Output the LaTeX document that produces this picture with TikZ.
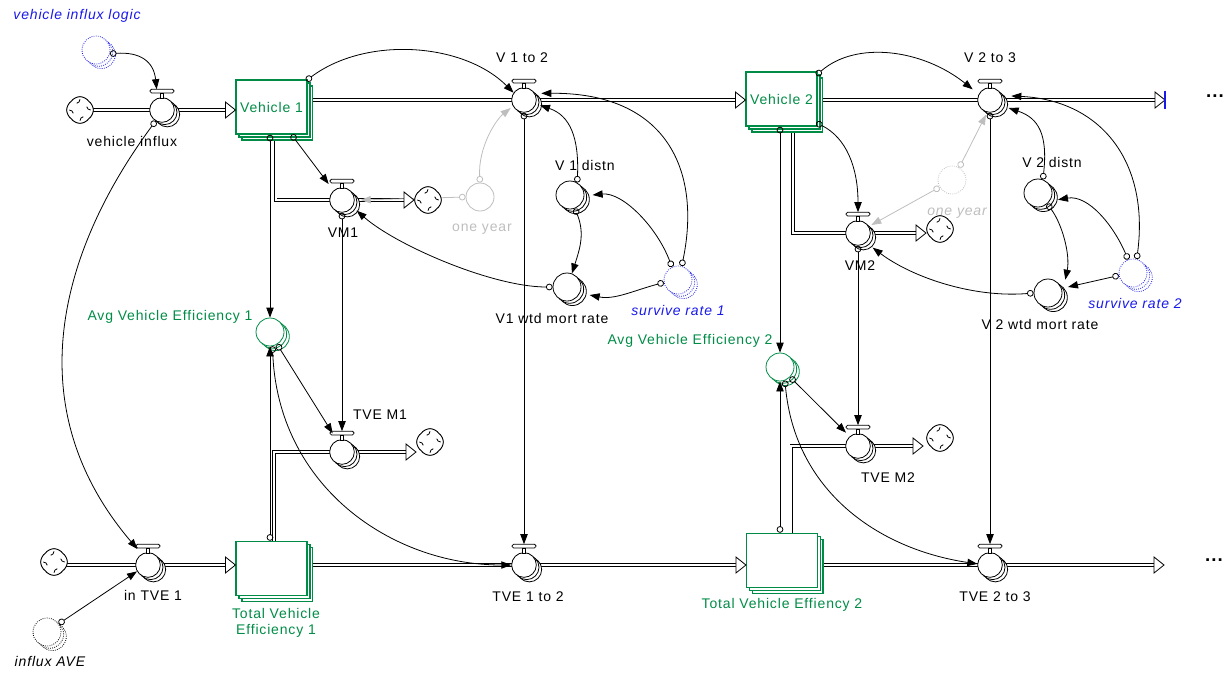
\documentclass[tikz,border=0pt]{standalone}
\usepackage{fontspec}
\setmainfont{Liberation Sans}[LetterSpace=6.0]
\usetikzlibrary{arrows.meta,shapes.symbols,shadows,backgrounds}

\definecolor{stockgreen}{RGB}{0,140,70}
\definecolor{ghostblue}{RGB}{25,25,235}
\definecolor{ghostgray}{RGB}{190,190,190}

\newcommand{\valvecap}[1]{%
  \draw[fill=white,line width=0.6pt] ([xshift=-1.3pt,yshift=9pt]#1.center) rectangle ([xshift=1.3pt,yshift=12.8pt]#1.center);
  \draw[fill=white,line width=0.6pt,rounded corners=1.2pt] ([xshift=-9pt,yshift=12.8pt]#1.center) rectangle ([xshift=9pt,yshift=15.6pt]#1.center);}
\newcommand{\flowtip}[1]{%
  \draw[fill=white,line width=0.6pt] (#1) -- ++(-7.5pt,6pt) -- ++(0,-12pt) -- cycle;}
\newcommand{\swirl}[1]{%
  \foreach \a in {0,90,180,270}
    {\draw[line width=0.6pt,rotate around={\a:(#1.center)}] ([yshift=8pt]#1.center) arc[start angle=0,end angle=-80,radius=3pt];}}

\tikzset{
  lbl/.style={inner sep=0pt, font=\fontsize{10.5}{12.5}\selectfont},
  ilbl/.style={inner sep=0pt, font=\fontsize{10.5}{12.5}\selectfont\itshape},
  stock/.style={rectangle, draw=stockgreen, line width=1.1pt, fill=white, text=stockgreen,
    minimum width=53pt, minimum height=40.5pt, inner sep=0pt, font=\fontsize{10.5}{12.5}\selectfont,
    copy shadow={shadow xshift=4.4pt, shadow yshift=-4.4pt},
    copy shadow={shadow xshift=2.2pt, shadow yshift=-2.2pt}},
  valve/.style={circle, draw, line width=0.6pt, fill=white, minimum size=18.5pt, inner sep=0pt,
    copy shadow={shadow xshift=4pt, shadow yshift=-3.4pt},
    copy shadow={shadow xshift=2pt, shadow yshift=-1.7pt}},
  conv/.style={circle, draw, line width=0.6pt, fill=white, minimum size=21pt, inner sep=0pt,
    copy shadow={shadow xshift=4pt, shadow yshift=-3.4pt},
    copy shadow={shadow xshift=2pt, shadow yshift=-1.7pt}},
  plainconv/.style={circle, draw, line width=0.6pt, fill=white, minimum size=21pt, inner sep=0pt},
  ghost/.style={conv, dash pattern=on 0.6pt off 1pt},
  sink/.style={cloud, cloud puffs=4, cloud puff arc=110, aspect=1, shape border rotate=45,
    draw, line width=0.7pt, fill=white, minimum width=20pt, minimum height=20pt, inner sep=0pt},
  pipe/.style={double, double distance=1.5pt, line width=0.55pt},
  link/.style={line width=0.6pt, {Circle[open,length=5pt]}-{Triangle[length=7.5pt,width=5.5pt]}},
  glink/.style={link, draw=ghostgray},
}

\begin{document}
\begin{tikzpicture}[x=0.75pt,y=-0.75pt]
\useasboundingbox (0,0) rectangle (1228,672);

% stocks
\node[stock] (veh1) at (271.5,107) {Vehicle 1};
\node[stock] (veh2) at (781.5,99) {Vehicle 2};
\node[stock] (tve1) at (271.5,568.5) {};
\node[stock] (tve2) at (782,560.5) {};

% clouds
\node[sink] (src1) at (80,110) {};
\node[sink] (src2) at (54,562) {};
\node[sink] (snk1) at (428,200) {};
\node[sink] (snk2) at (940,229) {};
\node[sink] (snk3) at (430,442) {};
\node[sink] (snk4) at (940,438) {};
\foreach \c in {src1,src2,snk1,snk2,snk3,snk4}
  {\swirl{\c}}

% valves
\node[valve] (vin) at (162,110) {};
\node[valve] (v12) at (524,100) {};
\node[valve] (v23) at (990,100) {};
\node[valve] (vm1) at (342,200) {};
\node[valve] (vm2) at (858,233) {};
\node[valve] (itv) at (148,565) {};
\node[valve] (t12) at (524,565) {};
\node[valve] (t23) at (990,565) {};
\node[valve] (tm1) at (342,452) {};
\node[valve] (tm2) at (858,446) {};
\foreach \v in {vin,v12,v23,vm1,vm2,itv,t12,t23,tm1,tm2}
  {\valvecap{\v}}

% converters
\node[ghost, draw=ghostblue] (logic) at (96,50) {};
\node[ghost] (iave) at (47,632) {};
\node[plainconv, draw=ghostgray] (one1) at (480,197) {};
\node[plainconv, draw=ghostgray, dash pattern=on 0.6pt off 1pt] (one2) at (952,180) {};
\node[conv] (d1) at (570,195) {};
\node[conv] (w1) at (567,287) {};
\node[ghost, draw=ghostblue] (s1) at (678,280) {};
\node[conv, draw=stockgreen] (avg1) at (270,332) {};
\node[conv] (d2) at (1038,193) {};
\node[conv] (w2) at (1048,293) {};
\node[ghost, draw=ghostblue] (s2) at (1133,273) {};
\node[conv, draw=stockgreen] (avg2) at (780,367) {};

% flow ends
\coordinate (h1) at (veh1.west |- vin);
\coordinate (h2) at (veh2.west |- v12);
\coordinate (h3) at (1165,100);
\coordinate (h4) at (414,200);
\coordinate (h5) at (926,233);
\coordinate (h6) at (tve1.west |- itv);
\coordinate (h7) at (tve2.west |- t12);
\coordinate (h8) at (1164,565);
\coordinate (h9) at (416,452);
\coordinate (h10) at (923,446);

% flows
\begin{scope}[on background layer]
\draw[pipe] (src1.center) -- ([xshift=-7pt]h1);
\draw[pipe] (veh1.center |- v12.center) -- ([xshift=-7pt]h2);
\draw[pipe] (veh2.center |- v23.center) -- ([xshift=-7pt]h3);
\draw[pipe] ([xshift=3pt]veh1.center) |- ([xshift=-7pt]h4);
\draw[pipe] ([xshift=8.5pt]veh2.center) |- ([xshift=-7pt]h5);
\draw[pipe] (src2.center |- itv.center) -- ([xshift=-7pt]h6);
\draw[pipe] (tve1.center |- t12.center) -- ([xshift=-7pt]h7);
\draw[pipe] (tve2.center |- t23.center) -- ([xshift=-7pt]h8);
\draw[pipe] ([xshift=2pt]tve1.center) |- ([xshift=-7pt]h9);
\draw[pipe] ([xshift=7pt]tve2.center) |- ([xshift=-7pt]h10);
\draw[glink] (one1.180) -- ([xshift=14pt]vm1.center);
\end{scope}
\foreach \h in {h1,h2,h3,h4,h5,h6,h7,h8,h9,h10}
  {\flowtip{\h}}
\draw[ghostblue, line width=0.8pt] ([yshift=7pt]h3) -- ([yshift=-7pt]h3);

% connectors, first sector
\draw[link] (logic.-15) .. controls +(30,-2) and +(-3,-28) .. ([xshift=-4pt,yshift=15.6pt]vin.center);
\draw[link] (vin.-120) .. controls +(-96,130) and +(-121,-142) .. ([xshift=-8pt,yshift=12pt]itv.center);
\draw[link] (iave.35) -- (itv.-150);
\draw[link] ([xshift=-1pt,yshift=-1pt]veh1.north east) .. controls +(60,-45) and +(-50,-50) .. (v12.145);
\draw[link] ([xshift=15pt]veh1.south) -- ([xshift=-10pt,yshift=12pt]vm1.center);
\draw[link] (veh1.south -| avg1) -- (avg1.north);
\draw[link] (v12.south) -- ([yshift=15.6pt]t12.center);
\draw[link] (d1.60) .. controls +(2,-45) and +(30,10) .. ([xshift=12pt,yshift=-4pt]v12.center);
\draw[link] (d1.-70) .. controls +(10,25) and +(8,-25) .. (w1.70);
\draw[link] (s1.115) .. controls +(-15,-40) and +(30,-3) .. ([xshift=17pt]d1.center);
\draw[link] (s1.75) .. controls +(20,-96) and +(125,-1) .. ([xshift=13pt,yshift=5pt]v12.center);
\draw[link] (s1.190) .. controls +(-30,8) and +(25,5) .. ([xshift=17pt,yshift=-6pt]w1.center);
\draw[link] (w1.180) .. controls +(-60,0) and +(40,35) .. ([xshift=11pt,yshift=-8pt]vm1.center);
\draw[link] (vm1.south) -- ([yshift=15.6pt]tm1.center);
\draw[link] (tve1.north -| avg1) -- (avg1.south);
\draw[link] (avg1.-60) -- ([xshift=-7pt,yshift=14pt]tm1.center);
\draw[link] (avg1.-80) .. controls +(5,140) and +(-120,0) .. (t12.180);
\draw[glink] (one1.90) .. controls +(-2,-35) and +(-15,12) .. ([xshift=-10pt,yshift=-6pt]v12.center);

% connectors, second sector
\draw[link] ([xshift=-1pt,yshift=-3pt]veh2.north east) .. controls +(40,-35) and +(-50,-40) .. ([xshift=-13pt,yshift=8pt]v23.center);
\draw[link] ([xshift=-1pt,yshift=3pt]veh2.south east) .. controls +(30,15) and +(0,-45) .. ([yshift=15.6pt]vm2.center);
\draw[link] (veh2.south -| avg2) -- (avg2.north);
\draw[link] (v23.south) -- ([yshift=15.6pt]t23.center);
\draw[link] (d2.70) .. controls +(5,-45) and +(30,10) .. ([xshift=14pt,yshift=-6pt]v23.center);
\draw[link] (d2.-50) .. controls +(15,20) and +(5,-25) .. ([xshift=13pt,yshift=10pt]w2.center);
\draw[link] (s2.110) .. controls +(-15,-35) and +(30,-5) .. ([xshift=15pt,yshift=-5pt]d2.center);
\draw[link] (s2.75) .. controls +(13,-98) and +(89,4) .. ([xshift=16pt,yshift=3pt]v23.center);
\draw[link] (s2.190) -- ([xshift=15pt,yshift=4.5pt]w2.center);
\draw[link] (w2.180) .. controls +(-60,5) and +(40,30) .. ([xshift=11pt,yshift=-11pt]vm2.center);
\draw[link] (vm2.south) -- ([yshift=15.6pt]tm2.center);
\draw[link] (tve2.north -| avg2) -- (avg2.south);
\draw[link] (avg2.-45) -- ([xshift=-9pt,yshift=10pt]tm2.center);
\draw[link] (avg2.-70) .. controls +(10,110) and +(-100,-15) .. (t23.175);
\draw[glink] (one2.60) -- ([xshift=-3pt,yshift=-11pt]v23.center);
\draw[glink] (one2.210) -- ([xshift=10pt,yshift=6pt]vm2.center);

% labels
\node[ilbl, text=ghostblue] (llogic) at (77,16) {vehicle influx logic};
\node[lbl] (lvin) at (132,141) {vehicle influx};
\node[lbl] (lv12) at (522,58) {V 1 to 2};
\node[lbl] (lv23) at (990,58) {V 2 to 3};
\node[lbl] (lvm1) at (343,233) {VM1};
\node[lbl] (lvm2) at (860,266) {VM2};
\node[lbl, text=ghostgray] (lone1) at (482,229) {one year};
\node[ilbl, text=ghostgray] (lone2) at (957,213) {one year};
\node[lbl] (ld1) at (585,165) {V 1 distn};
\node[lbl] (ld2) at (1052,162) {V 2 distn};
\node[lbl] (lw1) at (552,318) {V1 wtd mort rate};
\node[lbl] (lw2) at (1040,324) {V 2 wtd mort rate};
\node[ilbl, text=ghostblue] (ls1) at (678,310) {survive rate 1};
\node[ilbl, text=ghostblue] (ls2) at (1135,303) {survive rate 2};
\node[lbl, text=stockgreen] (lavg1) at (170,317) {Avg Vehicle Efficiency 1};
\node[lbl, text=stockgreen] (lavg2) at (690,341) {Avg Vehicle Efficiency 2};
\node[lbl] (ltm1) at (380,415) {TVE M1};
\node[lbl] (ltm2) at (888,478) {TVE M2};
\node[lbl] (litv) at (153,595) {in TVE 1};
\node[ilbl] (liave) at (50,661) {influx AVE};
\node[lbl] (lt12) at (528,597) {TVE 1 to 2};
\node[lbl] (lt23) at (995,597) {TVE 2 to 3};
\node[lbl, text=stockgreen, align=center] (ltve1) at (276,623) {Total Vehicle\\Efficiency 1};
\node[lbl, text=stockgreen] (ltve2) at (782,605) {Total Vehicle Effiency 2};
\node[lbl, font=\fontsize{14}{14}\selectfont\bfseries] (more1) at (1215,96) {...};
\node[lbl, font=\fontsize{14}{14}\selectfont\bfseries] (more2) at (1214,560) {...};
\end{tikzpicture}
\end{document}
